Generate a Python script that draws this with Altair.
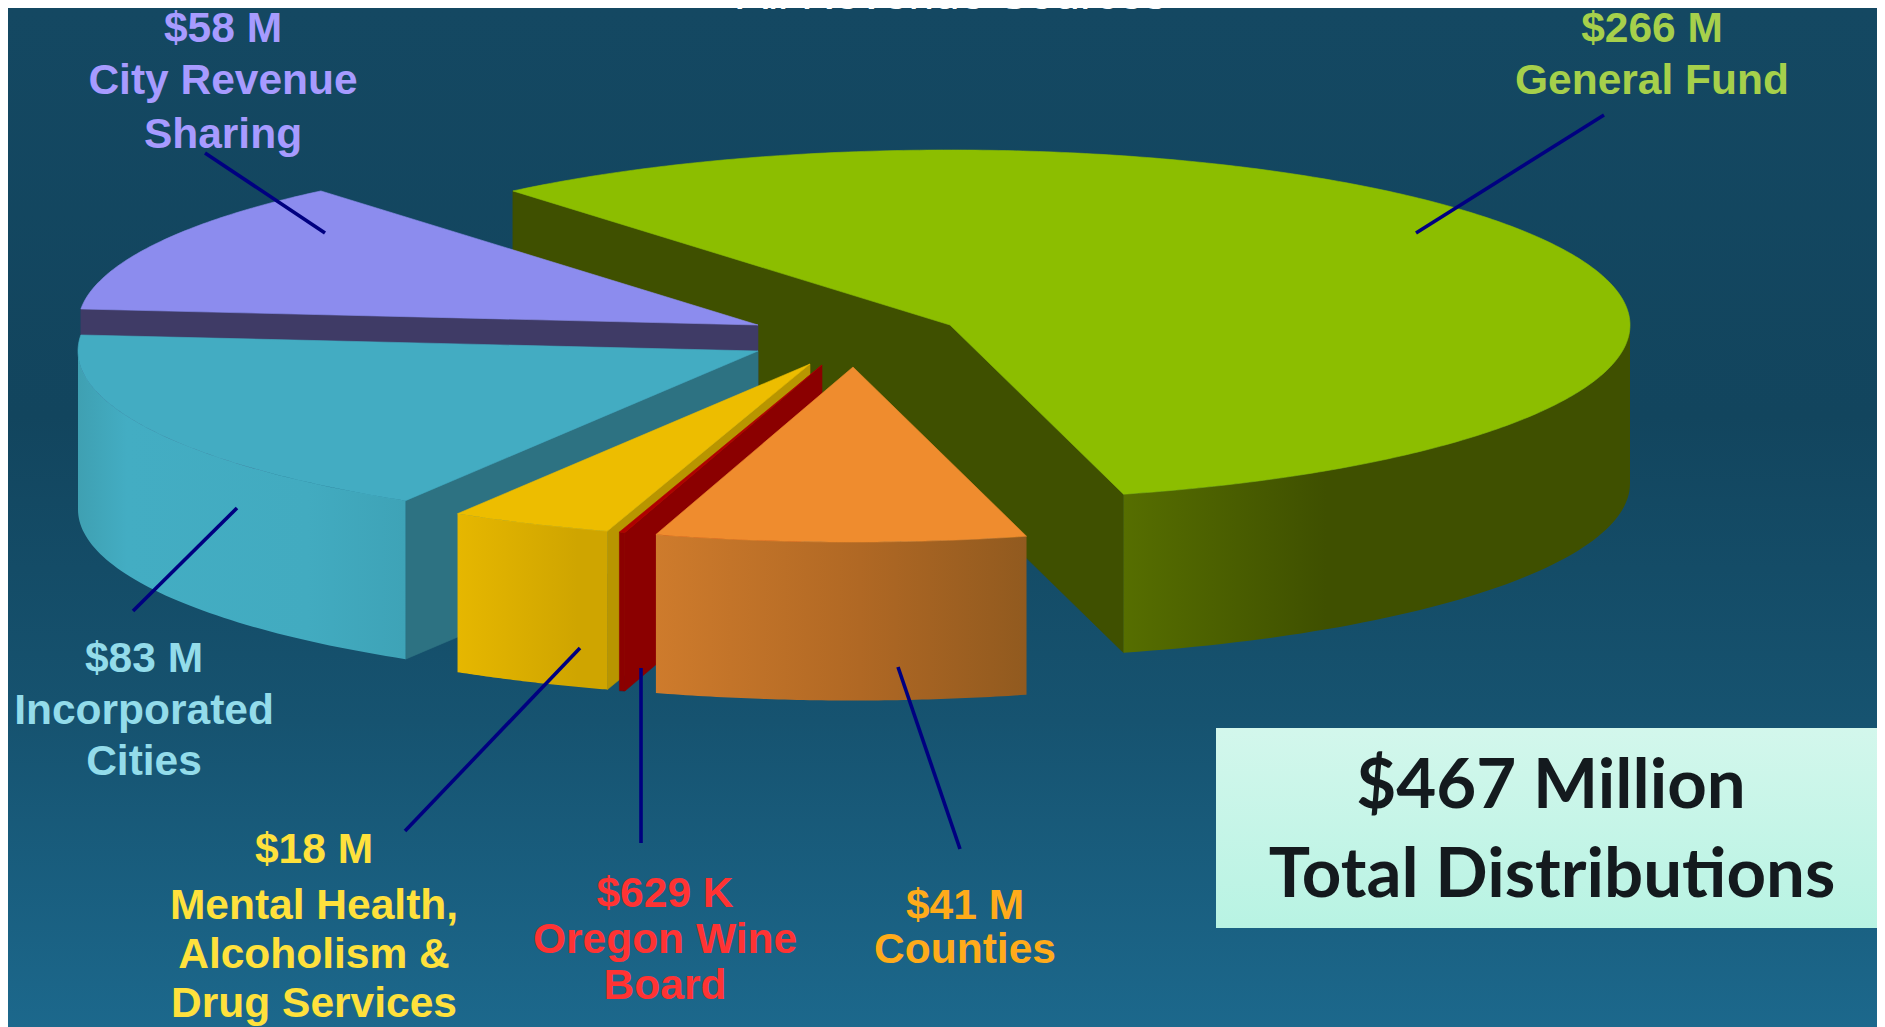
import math
import altair as alt
import pandas as pd

# ---- data (millions of dollars, clockwise from the General Fund)
names = ["General Fund", "Counties", "Oregon Wine Board", "Mental Health", "Incorporated Cities", "City Revenue Sharing"]
values = [266, 41, 0.629, 18, 83, 58]

# ---- pie geometry / style
START = 230.0
RX, RY, DEPTH = 680.0, 175.0, 158.5
centers = {
    "General Fund": (950, 325),
    "Counties": (853, 367),
    "Oregon Wine Board": (822, 365),
    "Mental Health": (810, 364),
    "Incorporated Cities": (758, 351),
    "City Revenue Sharing": (758, 325),
}
def grad(*stops):
    return alt.Gradient(gradient="linear", x1=0, x2=1, y1=0, y2=0,
                        stops=[alt.GradientStop(color=c, offset=o) for o, c in stops])
top_col = {
    "General Fund": "#8cbe00", "Counties": "#ef8c2e", "Oregon Wine Board": "#b00000",
    "Mental Health": "#edbd00", "Incorporated Cities": "#43acc2", "City Revenue Sharing": "#8c8cee",
}
cut_col = {
    "General Fund": "#3f5000", "Oregon Wine Board": "#8b0000", "Mental Health": "#b89500",
    "Incorporated Cities": "#2d7282", "City Revenue Sharing": "#3f3b66",
}
rim_col = {
    "General Fund": grad((0, "#566e00"), (0.4, "#3f5000"), (1, "#3f5000")),
    "Counties": grad((0, "#ce7b2c"), (0.55, "#b06824"), (1, "#915a1f")),
    "Oregon Wine Board": "#8b0000",
    "Mental Health": grad((0, "#e6b700"), (0.8, "#cfa500"), (1, "#cfa500")),
    "Incorporated Cities": grad((0, "#3fa0b2"), (0.15, "#43adc3"), (0.7, "#42abc0"), (1, "#3ea3b7")),
}
draw_order = ["General Fund", "City Revenue Sharing", "Incorporated Cities", "Mental Health", "Oregon Wine Board", "Counties"]

# ---- labels
label_names = ["$58 M", "City Revenue", "Sharing", "$266 M", "General Fund", "$83 M", "Incorporated", "Cities",
               "$18 M", "Mental Health,", "Alcoholism &", "Drug Services", "$629 K", "Oregon Wine", "Board", "$41 M", "Counties"]
label_x = [223, 223, 223, 1652, 1652, 144, 144, 144, 314, 314, 314, 314, 665, 665, 665, 965, 965]
label_y = [42, 94, 148, 42, 94, 672, 724, 775, 863, 919, 968, 1017, 907, 953, 999, 919, 963]
label_c = ["#a79bff"] * 3 + ["#a6d04b"] * 2 + ["#93dcea"] * 3 + ["#ffe13c"] * 4 + ["#ff3333"] * 3 + ["#ffab1a"] * 2

leader_x1 = [1604, 205, 237, 580, 641, 898]
leader_y1 = [115, 153, 508, 648, 668, 667]
leader_x2 = [1416, 325, 133, 405, 641, 960]
leader_y2 = [233, 233, 611, 831, 843, 849]

LEFT, TOP, RIGHT, BOTTOM = 8, 8, 1877, 1027
xs = alt.Scale(domain=[LEFT, RIGHT], nice=False, zero=False)
ys = alt.Scale(domain=[BOTTOM, TOP], nice=False, zero=False)
X = lambda f: alt.X(f, scale=xs, axis=None)
Y = lambda f: alt.Y(f, scale=ys, axis=None)


def rim(name, a):
    cx, cy = centers[name]
    return cx + RX * math.cos(math.radians(a)), cy + RY * math.sin(math.radians(a))


def poly(points, fill):
    df = pd.DataFrame([{"i": i, "x": p[0], "y": p[1]} for i, p in enumerate(points + points[:1])])
    kw = {"fill": fill}
    if isinstance(fill, str):
        kw.update(stroke=fill, strokeWidth=0.6)
    else:
        kw.update(strokeWidth=0)
    return alt.Chart(df).mark_line(**kw).encode(x=X("x:Q"), y=Y("y:Q"), order="i:Q")


total = sum(values)
layers = []

# background
bg = pd.DataFrame({"x": [LEFT], "x2": [RIGHT], "y": [TOP], "y2": [BOTTOM]})
layers.append(
    alt.Chart(bg).mark_rect(
        fill=alt.Gradient(gradient="linear", x1=0, x2=0, y1=0, y2=1, stops=[
            alt.GradientStop(color="#144862", offset=0),
            alt.GradientStop(color="#12455e", offset=0.4),
            alt.GradientStop(color="#165370", offset=0.7),
            alt.GradientStop(color="#1c688c", offset=1),
        ])
    ).encode(x=X("x:Q"), x2="x2:Q", y=Y("y:Q"), y2="y2:Q")
)

# wedge angles from the values
angles = {}
a = START
for n, v in zip(names, values):
    angles[n] = (a, a + v / total * 360.0)
    a += v / total * 360.0

for n in draw_order:
    a0, a1 = angles[n]
    cx, cy = centers[n]
    # straight cut walls that face the viewer
    for edge, is_lo in ((a0, True), (a1, False)):
        normal = edge - 90 if is_lo else edge + 90
        if math.sin(math.radians(normal)) > 0:
            rx, ry = rim(n, edge)
            layers.append(poly([(cx, cy), (rx, ry), (rx, ry + DEPTH), (cx, cy + DEPTH)], cut_col[n]))
    # curved outer wall: only the part of the rim nearest the viewer
    front = []
    for turn in (0, 360):
        lo, hi = max(a0, turn), min(a1, turn + 180)
        if hi > lo:
            front = [lo + (hi - lo) * k / 60 for k in range(61)]
    if front:
        upper = [rim(n, t) for t in front]
        lower = [(p[0], p[1] + DEPTH) for p in reversed(upper)]
        layers.append(poly(upper + lower, rim_col[n]))
    # top face
    steps = max(2, int((a1 - a0) * 1.5))
    arc = [rim(n, a0 + (a1 - a0) * k / steps) for k in range(steps + 1)]
    layers.append(poly([(cx, cy)] + arc, top_col[n]))

# leader lines
leaders = pd.DataFrame({"x": leader_x1, "y": leader_y1, "x2": leader_x2, "y2": leader_y2})
layers.append(
    alt.Chart(leaders).mark_rule(color="#000080", strokeWidth=3.6).encode(
        x=X("x:Q"), y=Y("y:Q"), x2="x2:Q", y2="y2:Q")
)

# labels
labels = pd.DataFrame({"t": label_names, "x": label_x, "y": label_y, "c": label_c})
layers.append(
    alt.Chart(labels).mark_text(font="Liberation Sans", fontWeight="bold", fontSize=42.5,
                                align="center", baseline="alphabetic").encode(
        x=X("x:Q"), y=Y("y:Q"), text="t:N", color=alt.Color("c:N", scale=None))
)

# clipped slide subtitle
layers.append(
    alt.Chart(pd.DataFrame({"t": ["All Revenue Sources"], "x": [952], "y": [9]})).mark_text(
        font="Liberation Sans", fontSize=46, color="#ffffff", align="center", baseline="alphabetic"
    ).encode(x=X("x:Q"), y=Y("y:Q"), text="t:N")
)

# total box
box = pd.DataFrame({"x": [1216], "x2": [RIGHT], "y": [728], "y2": [928]})
layers.append(
    alt.Chart(box).mark_rect(
        fill=alt.Gradient(gradient="linear", x1=0, x2=0, y1=0, y2=1, stops=[
            alt.GradientStop(color="#d3f7ec", offset=0),
            alt.GradientStop(color="#b8f3e3", offset=1),
        ])
    ).encode(x=X("x:Q"), x2="x2:Q", y=Y("y:Q"), y2="y2:Q")
)
box_text = pd.DataFrame({"t": ["$467 Million", "Total Distributions"], "x": [1551, 1552], "y": [808, 897]})
layers.append(
    alt.Chart(box_text).mark_text(font="Lato", fontWeight="bold", fontSize=69, color="#141a1e",
                                  align="center", baseline="alphabetic").encode(
        x=X("x:Q"), y=Y("y:Q"), text="t:N")
)

chart = alt.layer(*layers).properties(
    width=RIGHT - LEFT, height=BOTTOM - TOP, padding=0, background="#144862",
    autosize=alt.AutoSizeParams(type="none"),
).configure_view(strokeWidth=0)

chart.save("out.html", embed_options={"renderer": "svg", "actions": False})
